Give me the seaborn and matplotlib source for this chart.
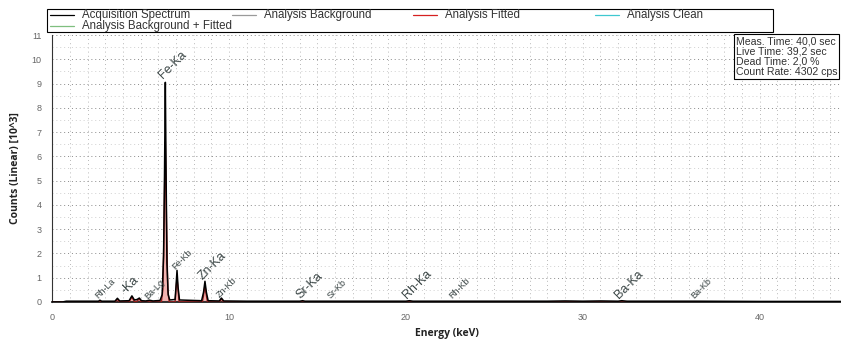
import numpy as np
import pandas as pd
import matplotlib
matplotlib.use("Agg")
import matplotlib.pyplot as plt
from matplotlib.lines import Line2D
from matplotlib.patches import Rectangle
from matplotlib.ticker import MultipleLocator
import seaborn as sns

# spectrum (keV, counts in 10^3)
acq_kev = [0.0, 0.6, 0.8, 1.5, 2.5, 2.62, 2.70, 2.80, 3.55, 3.69, 3.82, 4.35, 4.51, 4.65,
           4.80, 4.93, 5.05, 5.30, 5.50, 5.70, 6.10, 6.22, 6.30, 6.35, 6.40, 6.44, 6.49,
           6.56, 6.65, 6.95, 7.00, 7.06, 7.12, 7.20, 8.45, 8.56, 8.64, 8.72, 8.82, 9.45,
           9.57, 9.70, 11.0, 14.0, 14.16, 14.3, 15.8, 16.0, 20.0, 20.2, 20.4, 22.7, 25.0,
           28.0, 29.0, 30.0, 31.0, 32.0, 32.2, 32.5, 36.4, 40.0, 44.6]
acq_cnt = [0.0, 0.0, 0.03, 0.03, 0.03, 0.03, 0.07, 0.03, 0.03, 0.15, 0.04, 0.05, 0.25, 0.08,
           0.10, 0.16, 0.05, 0.04, 0.07, 0.04, 0.06, 0.3, 1.9, 5.0, 9.05, 5.5, 1.6,
           0.3, 0.08, 0.1, 0.6, 1.3, 0.6, 0.08, 0.05, 0.4, 0.85, 0.4, 0.05, 0.04,
           0.16, 0.04, 0.03, 0.03, 0.05, 0.03, 0.03, 0.03, 0.03, 0.05, 0.03, 0.03, 0.03,
           0.03, 0.04, 0.03, 0.04, 0.03, 0.05, 0.03, 0.03, 0.02, 0.02]

fit_kev = [0.0, 3.55, 3.69, 3.82, 4.35, 4.51, 4.65, 4.80, 4.93, 5.05, 6.18, 6.26, 6.32,
           6.37, 6.40, 6.43, 6.48, 6.54, 6.62, 6.95, 7.00, 7.06, 7.12, 7.18, 8.50, 8.58,
           8.64, 8.70, 8.78, 9.45, 9.57, 9.70, 44.6]
fit_cnt = [0.0, 0.0, 0.1, 0.0, 0.0, 0.2, 0.02, 0.03, 0.12, 0.0, 0.0, 0.5, 2.7,
           5.5, 6.6, 5.0, 2.7, 0.5, 0.0, 0.0, 0.5, 1.0, 0.5, 0.0, 0.0, 0.35,
           0.7, 0.35, 0.0, 0.0, 0.12, 0.0, 0.0]

# peak labels: text, keV, count at anchor, big font?
lab_text = ["Rh-La", "-Ka", "Ba-Lg", "Fe-Ka", "Fe-Kb", "Zn-Ka", "Zn-Kb",
            "Sr-Ka", "Sr-Kb", "Rh-Ka", "Rh-Kb", "Ba-Ka", "Ba-Kb"]
lab_kev = [2.70, 4.25, 5.50, 6.40, 7.06, 8.64, 9.57, 14.16, 15.83, 20.21, 22.72, 32.19, 36.38]
lab_cnt = [0.05, 0.25, 0.05, 9.1, 1.25, 0.8, 0.1, 0.05, 0.05, 0.05, 0.05, 0.05, 0.05]
lab_big = [False, True, False, True, False, True, False, True, False, True, False, True, False]

leg_labels = ["Acquisition Spectrum", "Analysis Background", "Analysis Fitted",
              "Analysis Clean", "Analysis Background + Fitted"]
leg_colors = ["black", "#9a9a9a", "#d62020", "#3fc8d0", "#7fbf7f"]

info_lines = ["Meas. Time: 40,0 sec", "Live Time: 39,2 sec",
              "Dead Time: 2,0 %", "Count Rate: 4302 cps"]

sns.set_style("white")
plt.rcParams["font.family"] = ["Liberation Sans", "DejaVu Sans"]

W, H = 841, 340
fig = plt.figure(figsize=(8.41, 3.40), dpi=100)
ax = fig.add_axes([0.062, 0.112, 0.938, 0.785])

acq = pd.DataFrame({"Energy": acq_kev, "Counts": acq_cnt})
fit = pd.DataFrame({"Energy": fit_kev, "Counts": fit_cnt})

ax.fill_between(fit["Energy"], 0, fit["Counts"], color="#f2b3b0", zorder=2, lw=0)
sns.lineplot(data=fit, x="Energy", y="Counts", ax=ax, color="#9e1b1b", lw=1.0, zorder=3)
sns.lineplot(data=acq, x="Energy", y="Counts", ax=ax, color="black", lw=1.1, zorder=4)

ax.set_xlim(0, 44.6)
ax.set_ylim(0, 11)
ax.xaxis.set_major_locator(MultipleLocator(10))
ax.xaxis.set_minor_locator(MultipleLocator(2))
ax.yaxis.set_major_locator(MultipleLocator(1))
ax.yaxis.set_minor_locator(MultipleLocator(0.2))
ax.tick_params(axis="both", which="major", direction="inout", length=8, width=0.8,
               labelsize=6.5, labelcolor="#666666", color="#333333")
ax.tick_params(axis="both", which="minor", direction="inout", length=4, width=0.6,
               color="#333333")
ax.tick_params(axis="x", pad=4)

ax.grid(False)
for v in np.arange(1, 45, 1):
    ax.axvline(v, color="#a0a0a0", lw=0.6, ls=(0, (1, 4)), zorder=0)
for v in np.arange(0.5, 11.01, 0.5):
    ax.axhline(v, color="#8a8a8a" if v % 1 == 0 else "#d0d0d0", lw=0.7,
               ls=(0, (1, 3)), zorder=0)

for s in ["top", "right"]:
    ax.spines[s].set_visible(False)
ax.spines["left"].set_color("#333333")
ax.spines["bottom"].set_color("#222222")
ax.spines["bottom"].set_linewidth(1.3)

ax.set_xlabel("Energy (keV)", fontsize=7.5, fontweight="bold", family="Open Sans",
              color="#222222", labelpad=4)
ax.set_ylabel("Counts (Linear) [10^3]", fontsize=7.5, fontweight="bold", family="Open Sans",
              color="#222222", labelpad=8)

for t, k, c, big in zip(lab_text, lab_kev, lab_cnt, lab_big):
    ax.text(k, c, t, rotation=45, rotation_mode="anchor", ha="left", va="bottom",
            fontsize=9 if big else 6.5, color="#3a4545", zorder=5)

# legend box drawn by hand so the columns sit at fixed spacing
fig.patches.append(Rectangle((47 / W, 1 - 32 / H), 726 / W, 23 / H, transform=fig.transFigure,
                             fill=False, ec="black", lw=0.8))
col_x = [50, 232, 413, 595, 50]
row_y = [15, 15, 15, 15, 26]
for lab, col, x0, y0 in zip(leg_labels, leg_colors, col_x, row_y):
    fig.lines.append(Line2D([x0 / W, (x0 + 24) / W], [1 - y0 / H, 1 - y0 / H],
                            transform=fig.transFigure, color=col, lw=0.9))
    fig.text((x0 + 32) / W, 1 - y0 / H, lab, ha="left", va="center", fontsize=8.3,
             color="#333333")

fig.text(736 / W, 1 - 36 / H, "\n".join(info_lines), ha="left", va="top", fontsize=7.6,
         color="#333333", linespacing=1.05,
         bbox=dict(boxstyle="square,pad=0.15", fc="white", ec="black", lw=0.8))

fig.savefig("out.png", dpi=100)
